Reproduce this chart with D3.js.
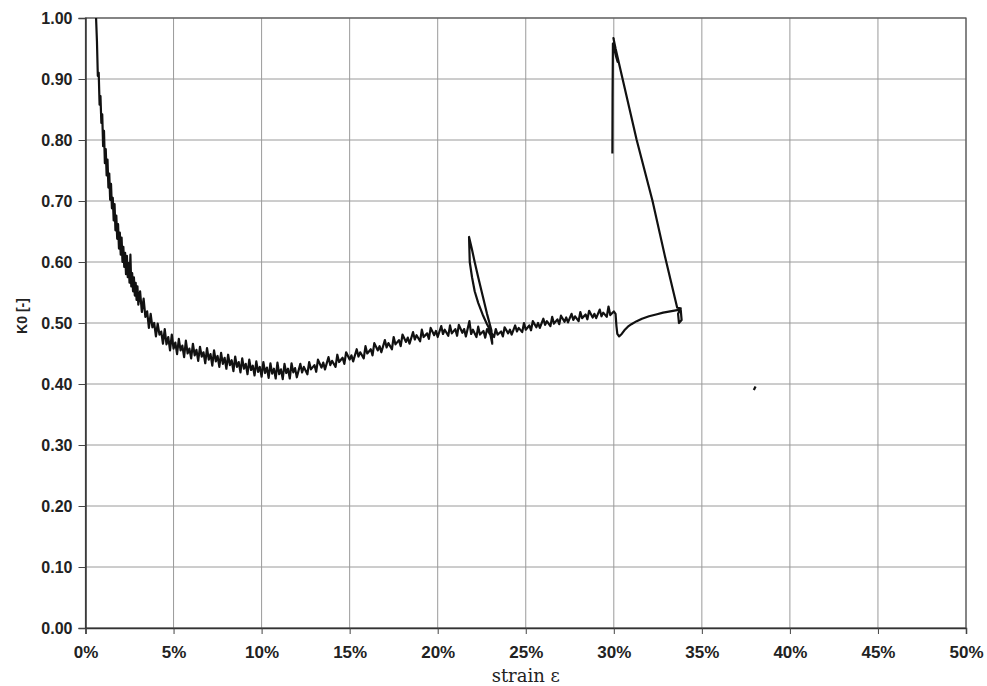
<!DOCTYPE html>
<html>
<head>
<meta charset="utf-8">
<script src="https://cdn.jsdelivr.net/npm/d3@7"></script>
<style>
  body { margin: 0; background: #fff; }
  svg { display: block; }
  .grid line { stroke: #9a9a9a; stroke-width: 1; }
  .tick-label { font-family: "Liberation Sans", Arial, sans-serif; font-weight: bold; fill: #222; }
</style>
</head>
<body>
<svg id="chart"></svg>
<script>
// Axis ticks
const xTicks = [0, 5, 10, 15, 20, 25, 30, 35, 40, 45, 50];
const yTicks = [0, 0.1, 0.2, 0.3, 0.4, 0.5, 0.6, 0.7, 0.8, 0.9, 1.0];

// Loading curve, steep start (strain %, K0)
const loadStart = [
  [0.60, 1.000], [0.65, 0.962], [0.70, 0.905], [0.75, 0.910], [0.80, 0.858], [0.85, 0.872],
  [0.90, 0.828], [0.95, 0.842], [1.00, 0.790], [1.05, 0.815], [1.10, 0.762], [1.15, 0.785],
  [1.20, 0.742], [1.25, 0.768], [1.30, 0.722], [1.35, 0.745], [1.40, 0.702], [1.45, 0.728],
  [1.50, 0.688], [1.55, 0.705], [1.60, 0.668], [1.65, 0.695], [1.70, 0.652], [1.75, 0.676],
  [1.80, 0.638], [1.85, 0.662], [1.90, 0.622], [1.95, 0.648], [2.00, 0.612], [2.05, 0.640],
  [2.10, 0.600], [2.15, 0.625], [2.20, 0.592], [2.25, 0.615], [2.30, 0.580], [2.35, 0.610],
  [2.40, 0.575], [2.45, 0.598], [2.50, 0.566], [2.55, 0.612], [2.60, 0.560], [2.65, 0.582],
  [2.70, 0.552], [2.75, 0.575], [2.80, 0.545], [2.85, 0.566], [2.90, 0.538], [2.95, 0.560],
  [3.00, 0.530]
];

// Loading curve, trough
const loadTrough = [
  [3.1, 0.552], [3.2, 0.518], [3.3, 0.540], [3.4, 0.510], [3.5, 0.519], [3.6, 0.492],
  [3.7, 0.515], [3.8, 0.493], [3.9, 0.500], [4.0, 0.478], [4.1, 0.499], [4.2, 0.481],
  [4.3, 0.486], [4.4, 0.466], [4.5, 0.490], [4.6, 0.465], [4.7, 0.477], [4.8, 0.455],
  [4.9, 0.481], [5.0, 0.458], [5.1, 0.468], [5.2, 0.449], [5.3, 0.474], [5.4, 0.455],
  [5.5, 0.463], [5.6, 0.444], [5.7, 0.471], [5.8, 0.450], [5.9, 0.458], [6.0, 0.442],
  [6.1, 0.466], [6.2, 0.447], [6.3, 0.456], [6.4, 0.438], [6.5, 0.461], [6.6, 0.445],
  [6.7, 0.452], [6.8, 0.434], [6.9, 0.459], [7.0, 0.440], [7.1, 0.449], [7.2, 0.430],
  [7.3, 0.455], [7.4, 0.437], [7.5, 0.446], [7.6, 0.428], [7.7, 0.451], [7.8, 0.433],
  [7.9, 0.443], [8.0, 0.425], [8.1, 0.448], [8.2, 0.431], [8.3, 0.439], [8.4, 0.421],
  [8.5, 0.445], [8.6, 0.428], [8.7, 0.436], [8.8, 0.419], [8.9, 0.442], [9.0, 0.425],
  [9.1, 0.433], [9.2, 0.416], [9.3, 0.440], [9.4, 0.423], [9.5, 0.430], [9.6, 0.414],
  [9.7, 0.437], [9.8, 0.420], [9.9, 0.428], [10.0, 0.412], [10.1, 0.436], [10.2, 0.418],
  [10.3, 0.427], [10.4, 0.410], [10.5, 0.434], [10.6, 0.417], [10.7, 0.425], [10.8, 0.409],
  [10.9, 0.435], [11.0, 0.416], [11.1, 0.424], [11.2, 0.408], [11.3, 0.433], [11.4, 0.418],
  [11.5, 0.425], [11.6, 0.409], [11.7, 0.434], [11.8, 0.419], [11.9, 0.426], [12.0, 0.411]
];

// Loading curve, rise to first unloading
const loadRise = [
  [12.2, 0.433], [12.3, 0.419], [12.4, 0.428], [12.6, 0.416], [12.7, 0.436], [12.8, 0.424],
  [13.0, 0.431], [13.1, 0.420], [13.2, 0.440], [13.4, 0.427], [13.5, 0.435], [13.6, 0.424],
  [13.8, 0.444], [13.9, 0.431], [14.0, 0.438], [14.2, 0.428], [14.3, 0.448], [14.4, 0.436],
  [14.6, 0.443], [14.7, 0.433], [14.8, 0.452], [15.0, 0.440], [15.1, 0.447], [15.2, 0.437],
  [15.4, 0.457], [15.5, 0.445], [15.6, 0.452], [15.8, 0.442], [15.9, 0.462], [16.0, 0.450],
  [16.2, 0.457], [16.3, 0.447], [16.4, 0.467], [16.6, 0.455], [16.7, 0.462], [16.8, 0.452],
  [17.0, 0.472], [17.1, 0.460], [17.2, 0.467], [17.4, 0.457], [17.5, 0.477], [17.6, 0.465],
  [17.8, 0.472], [17.9, 0.462], [18.0, 0.481], [18.2, 0.469], [18.3, 0.476], [18.4, 0.466],
  [18.6, 0.485], [18.7, 0.473], [18.8, 0.480], [19.0, 0.470], [19.1, 0.489], [19.2, 0.477],
  [19.4, 0.483], [19.5, 0.474], [19.6, 0.492], [19.8, 0.480], [19.9, 0.487], [20.0, 0.477],
  [20.2, 0.495], [20.3, 0.482], [20.4, 0.489], [20.6, 0.479], [20.7, 0.496], [20.8, 0.483],
  [21.0, 0.490], [21.1, 0.479], [21.2, 0.497], [21.4, 0.484], [21.5, 0.490], [21.6, 0.478],
  [21.8, 0.503], [21.9, 0.482], [22.0, 0.489], [22.2, 0.477], [22.3, 0.494], [22.4, 0.481],
  [22.6, 0.487], [22.7, 0.476], [22.8, 0.490], [23.0, 0.480], [23.1, 0.466], [23.05, 0.488]
];

// First unload / reload loop
const loop1 = [
  [22.8, 0.515], [22.55, 0.545], [22.3, 0.575], [22.1, 0.600], [21.95, 0.620], [21.78, 0.641],
  [21.82, 0.600], [21.95, 0.575], [22.1, 0.552], [22.3, 0.533], [22.55, 0.514], [22.8, 0.498],
  [23.05, 0.484]
];

// Reloading up to second unloading
const reload = [
  [23.2, 0.477], [23.3, 0.490], [23.4, 0.481], [23.6, 0.486], [23.7, 0.478], [23.8, 0.493],
  [24.0, 0.483], [24.1, 0.489], [24.2, 0.481], [24.4, 0.496], [24.5, 0.486], [24.6, 0.492],
  [24.8, 0.485], [24.9, 0.500], [25.0, 0.489], [25.2, 0.496], [25.3, 0.488], [25.4, 0.503],
  [25.6, 0.493], [25.7, 0.500], [25.8, 0.492], [26.0, 0.507], [26.1, 0.497], [26.2, 0.503],
  [26.4, 0.495], [26.5, 0.510], [26.6, 0.499], [26.8, 0.506], [26.9, 0.498], [27.0, 0.512],
  [27.2, 0.502], [27.3, 0.509], [27.4, 0.501], [27.6, 0.515], [27.7, 0.505], [27.8, 0.511],
  [28.0, 0.503], [28.1, 0.518], [28.2, 0.508], [28.4, 0.514], [28.5, 0.506], [28.6, 0.520],
  [28.8, 0.509], [28.9, 0.515], [29.0, 0.508], [29.2, 0.522], [29.3, 0.511], [29.4, 0.517],
  [29.6, 0.510], [29.7, 0.527], [29.8, 0.513], [30.0, 0.519], [30.1, 0.515],
  [30.15, 0.495], [30.2, 0.482], [30.3, 0.478], [30.45, 0.482], [30.6, 0.488], [30.8, 0.494],
  [31.0, 0.498], [31.3, 0.503], [31.6, 0.507], [32.0, 0.511], [32.4, 0.514], [32.8, 0.517],
  [33.2, 0.519], [33.6, 0.521], [33.8, 0.522], [33.85, 0.505], [33.7, 0.500], [33.65, 0.515],
  [33.8, 0.524]
];

// Second unloading branch
const unload2 = [
  [33.6, 0.525], [32.9, 0.610], [32.2, 0.700], [31.3, 0.800], [30.5, 0.900], [30.1, 0.950],
  [29.98, 0.967], [30.22, 0.928], [30.12, 0.938], [29.95, 0.958], [29.93, 0.870], [29.92, 0.778]
];

// Stray mark on the scan
const stray = [[37.95, 0.390], [38.05, 0.396]];

const series = [loadStart.concat(loadTrough, loadRise, loop1, reload, unload2), stray];

const W = 987, H = 686;
const margin = { top: 18, right: 21, bottom: 58, left: 85.5 };

const svg = d3.select("#chart").attr("width", W).attr("height", H);

const x = d3.scaleLinear().domain([0, 50]).range([margin.left, W - margin.right]);
const y = d3.scaleLinear().domain([0, 1]).range([H - margin.bottom, margin.top]);

// Grid
const grid = svg.append("g").attr("class", "grid");
grid.selectAll("line.v")
    .data(xTicks.slice(1))
    .join("line")
    .attr("x1", d => x(d)).attr("x2", d => x(d))
    .attr("y1", y(1)).attr("y2", y(0));
grid.selectAll("line.h")
    .data(yTicks.slice(1))
    .join("line")
    .attr("x1", x(0)).attr("x2", x(50))
    .attr("y1", d => y(d)).attr("y2", d => y(d));

// Frame
svg.append("rect")
    .attr("x", x(0)).attr("y", y(1))
    .attr("width", x(50) - x(0)).attr("height", y(0) - y(1))
    .attr("fill", "none").attr("stroke", "#555").attr("stroke-width", 1.2);

// Axes
const yAxis = d3.axisLeft(y).tickValues(yTicks).tickFormat(d3.format(".2f")).tickSize(7).tickPadding(6);
const xAxis = d3.axisBottom(x).tickValues(xTicks).tickFormat(d => d + "%").tickSize(6).tickPadding(12);

const gy = svg.append("g").attr("transform", `translate(${x(0)},0)`).call(yAxis);
const gx = svg.append("g").attr("transform", `translate(0,${y(0)})`).call(xAxis);

[gx, gy].forEach(g => {
    g.select(".domain").attr("stroke", "#333").attr("stroke-width", 1.5);
    g.selectAll(".tick line").attr("stroke", "#444");
    g.selectAll(".tick text").attr("class", "tick-label").attr("fill", "#222");
});
gy.selectAll(".tick text").style("font-size", "16px");
gx.selectAll(".tick text").style("font-size", "17px");

// Curve
const line = d3.line().x(d => x(d[0])).y(d => y(d[1]));
svg.append("g")
    .selectAll("path")
    .data(series)
    .join("path")
    .attr("d", line)
    .attr("fill", "none")
    .attr("stroke", "#111")
    .attr("stroke-width", 2.2)
    .attr("stroke-linejoin", "round");

// Titles
svg.append("text")
    .attr("x", x(25)).attr("y", 682)
    .attr("text-anchor", "middle")
    .style("font-family", "'DejaVu Serif', 'Liberation Serif', serif")
    .style("font-size", "18px")
    .attr("fill", "#222")
    .text("strain ε");

svg.append("text")
    .attr("transform", "translate(27,316) rotate(-90)")
    .attr("text-anchor", "middle")
    .style("font-family", "'Liberation Sans', Arial, sans-serif")
    .style("font-weight", "bold")
    .style("font-size", "14px")
    .attr("fill", "#222")
    .text("K0 [-]");
</script>
</body>
</html>
